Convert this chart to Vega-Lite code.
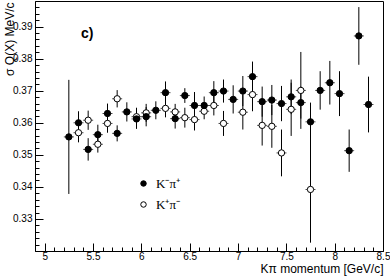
{
"$schema": "https://vega.github.io/schema/vega-lite/v6.json",
"width": 348, "height": 250,
"autosize": {"type": "none"},
"padding": {"left": 35, "top": 1, "right": 7, "bottom": 25},
"background": "white",
"config": {
  "font": "Liberation Sans",
  "view": {"stroke": "black", "strokeWidth": 1},
  "axis": {"domainColor": "black", "tickColor": "black", "labelColor": "black", "titleColor": "black", "grid": false, "labelFont": "Liberation Sans", "titleFont": "Liberation Sans", "labelFontSize": 10, "titleFontSize": 12, "titleFontWeight": "normal", "labelOverlap": false, "labelFlush": false}
},
"resolve": {"axis": {"x": "independent", "y": "independent"}},
"data": {"values": [
  {"s": "K⁺π⁻", "x": 5.35, "y": 0.3569, "lo": 0.3539, "hi": 0.3599},
  {"s": "K⁺π⁻", "x": 5.45, "y": 0.3608, "lo": 0.3578, "hi": 0.3638},
  {"s": "K⁺π⁻", "x": 5.55, "y": 0.3533, "lo": 0.3507, "hi": 0.3559},
  {"s": "K⁺π⁻", "x": 5.65, "y": 0.3598, "lo": 0.3569, "hi": 0.3627},
  {"s": "K⁺π⁻", "x": 5.75, "y": 0.3675, "lo": 0.3648, "hi": 0.3702},
  {"s": "K⁺π⁻", "x": 5.95, "y": 0.3619, "lo": 0.3591, "hi": 0.3647},
  {"s": "K⁺π⁻", "x": 6.05, "y": 0.3631, "lo": 0.3603, "hi": 0.3659},
  {"s": "K⁺π⁻", "x": 6.25, "y": 0.3645, "lo": 0.3617, "hi": 0.3673},
  {"s": "K⁺π⁻", "x": 6.35, "y": 0.3634, "lo": 0.3609, "hi": 0.3659},
  {"s": "K⁺π⁻", "x": 6.45, "y": 0.3616, "lo": 0.3585, "hi": 0.3647},
  {"s": "K⁺π⁻", "x": 6.55, "y": 0.3610, "lo": 0.3576, "hi": 0.3644},
  {"s": "K⁺π⁻", "x": 6.65, "y": 0.3636, "lo": 0.3611, "hi": 0.3661},
  {"s": "K⁺π⁻", "x": 6.75, "y": 0.3654, "lo": 0.3623, "hi": 0.3685},
  {"s": "K⁺π⁻", "x": 6.85, "y": 0.3598, "lo": 0.3559, "hi": 0.3637},
  {"s": "K⁺π⁻", "x": 7.05, "y": 0.3633, "lo": 0.3579, "hi": 0.3687},
  {"s": "K⁺π⁻", "x": 7.15, "y": 0.3688, "lo": 0.3636, "hi": 0.3740},
  {"s": "K⁺π⁻", "x": 7.25, "y": 0.3592, "lo": 0.3529, "hi": 0.3655},
  {"s": "K⁺π⁻", "x": 7.35, "y": 0.3589, "lo": 0.3522, "hi": 0.3656},
  {"s": "K⁺π⁻", "x": 7.45, "y": 0.3506, "lo": 0.3433, "hi": 0.3579},
  {"s": "K⁺π⁻", "x": 7.55, "y": 0.3642, "lo": 0.3559, "hi": 0.3725},
  {"s": "K⁺π⁻", "x": 7.65, "y": 0.3701, "lo": 0.3581, "hi": 0.3821},
  {"s": "K⁺π⁻", "x": 7.75, "y": 0.3392, "lo": 0.3226, "hi": 0.3558},
  {"s": "K⁻π⁺", "x": 5.25, "y": 0.3556, "lo": 0.3378, "hi": 0.3734},
  {"s": "K⁻π⁺", "x": 5.35, "y": 0.3600, "lo": 0.3564, "hi": 0.3636},
  {"s": "K⁻π⁺", "x": 5.45, "y": 0.3517, "lo": 0.3482, "hi": 0.3552},
  {"s": "K⁻π⁺", "x": 5.55, "y": 0.3563, "lo": 0.3532, "hi": 0.3594},
  {"s": "K⁻π⁺", "x": 5.65, "y": 0.3629, "lo": 0.3598, "hi": 0.3660},
  {"s": "K⁻π⁺", "x": 5.75, "y": 0.3567, "lo": 0.3542, "hi": 0.3592},
  {"s": "K⁻π⁺", "x": 5.85, "y": 0.3634, "lo": 0.3604, "hi": 0.3664},
  {"s": "K⁻π⁺", "x": 5.95, "y": 0.3612, "lo": 0.3581, "hi": 0.3643},
  {"s": "K⁻π⁺", "x": 6.05, "y": 0.3619, "lo": 0.3589, "hi": 0.3649},
  {"s": "K⁻π⁺", "x": 6.15, "y": 0.3639, "lo": 0.3611, "hi": 0.3667},
  {"s": "K⁻π⁺", "x": 6.25, "y": 0.3694, "lo": 0.3659, "hi": 0.3729},
  {"s": "K⁻π⁺", "x": 6.35, "y": 0.3613, "lo": 0.3582, "hi": 0.3644},
  {"s": "K⁻π⁺", "x": 6.45, "y": 0.3685, "lo": 0.3662, "hi": 0.3708},
  {"s": "K⁻π⁺", "x": 6.55, "y": 0.3654, "lo": 0.3612, "hi": 0.3696},
  {"s": "K⁻π⁺", "x": 6.65, "y": 0.3654, "lo": 0.3626, "hi": 0.3682},
  {"s": "K⁻π⁺", "x": 6.75, "y": 0.3694, "lo": 0.3658, "hi": 0.3730},
  {"s": "K⁻π⁺", "x": 6.85, "y": 0.3699, "lo": 0.3663, "hi": 0.3735},
  {"s": "K⁻π⁺", "x": 6.95, "y": 0.3673, "lo": 0.3629, "hi": 0.3717},
  {"s": "K⁻π⁺", "x": 7.05, "y": 0.3699, "lo": 0.3652, "hi": 0.3746},
  {"s": "K⁻π⁺", "x": 7.15, "y": 0.3744, "lo": 0.3697, "hi": 0.3791},
  {"s": "K⁻π⁺", "x": 7.25, "y": 0.3666, "lo": 0.3619, "hi": 0.3713},
  {"s": "K⁻π⁺", "x": 7.35, "y": 0.3671, "lo": 0.3624, "hi": 0.3718},
  {"s": "K⁻π⁺", "x": 7.45, "y": 0.3660, "lo": 0.3605, "hi": 0.3715},
  {"s": "K⁻π⁺", "x": 7.55, "y": 0.3681, "lo": 0.3627, "hi": 0.3735},
  {"s": "K⁻π⁺", "x": 7.65, "y": 0.3663, "lo": 0.3613, "hi": 0.3713},
  {"s": "K⁻π⁺", "x": 7.75, "y": 0.3603, "lo": 0.3543, "hi": 0.3663},
  {"s": "K⁻π⁺", "x": 7.85, "y": 0.3701, "lo": 0.3641, "hi": 0.3761},
  {"s": "K⁻π⁺", "x": 7.95, "y": 0.3725, "lo": 0.3657, "hi": 0.3793},
  {"s": "K⁻π⁺", "x": 8.05, "y": 0.3691, "lo": 0.3621, "hi": 0.3761},
  {"s": "K⁻π⁺", "x": 8.15, "y": 0.3513, "lo": 0.3447, "hi": 0.3579},
  {"s": "K⁻π⁺", "x": 8.25, "y": 0.3871, "lo": 0.3781, "hi": 0.3961},
  {"s": "K⁻π⁺", "x": 8.35, "y": 0.3657, "lo": 0.3570, "hi": 0.3744}
]},
"layer": [
  {
    "mark": {"type": "rule", "color": "black", "strokeWidth": 1},
    "encoding": {
      "x": {"field": "x", "type": "quantitative", "scale": {"domain": [4.9, 8.5], "nice": false, "zero": false},
        "axis": {"orient": "bottom", "title": "Kπ momentum [GeV/c]", "titleAnchor": "end", "titleAlign": "right", "titleX": 348, "titleY": 21, "titleBaseline": "alphabetic",
          "values": [5, 5.5, 6, 6.5, 7, 7.5, 8, 8.5], "format": "~g",
          "tickSize": -8, "labelPadding": 8}},
      "y": {"field": "lo", "type": "quantitative", "scale": {"domain": [0.32, 0.398], "nice": false, "zero": false},
        "axis": {"orient": "left", "title": "σ Q(X) MeV/c", "titleAngle": -90, "titleAlign": "right", "titleBaseline": "middle", "titleX": -26, "titleY": 1,
          "values": [0.33, 0.34, 0.35, 0.36, 0.37, 0.38, 0.39], "format": ".2f",
          "tickSize": -8, "labelPadding": 11}},
      "y2": {"field": "hi"}
    }
  },
  {
    "mark": {"type": "tick", "orient": "horizontal", "size": 10, "thickness": 1, "color": "black"},
    "encoding": {
      "x": {"field": "x", "type": "quantitative",
        "axis": {"orient": "bottom", "title": null, "labels": false, "domain": false, "tickSize": -4,
          "values": [5.1,5.2,5.3,5.4,5.6,5.7,5.8,5.9,6.1,6.2,6.3,6.4,6.6,6.7,6.8,6.9,7.1,7.2,7.3,7.4,7.6,7.7,7.8,7.9,8.1,8.2,8.3,8.4]}},
      "y": {"field": "y", "type": "quantitative",
        "axis": {"orient": "left", "title": null, "labels": false, "domain": false, "tickSize": -4,
          "values": [0.322,0.324,0.326,0.328,0.332,0.334,0.336,0.338,0.342,0.344,0.346,0.348,0.352,0.354,0.356,0.358,0.362,0.364,0.366,0.368,0.372,0.374,0.376,0.378,0.382,0.384,0.386,0.388,0.392,0.394,0.396]}}
    }
  },
  {
    "mark": {"type": "point", "shape": "circle", "filled": true, "size": 40, "stroke": "black", "strokeWidth": 1, "opacity": 1},
    "encoding": {
      "x": {"field": "x", "type": "quantitative", "axis": null},
      "y": {"field": "y", "type": "quantitative", "axis": null},
      "fill": {"field": "s", "type": "nominal", "scale": {"domain": ["K⁻π⁺", "K⁺π⁻"], "range": ["black", "white"]},
        "legend": {"title": null, "orient": "none", "legendX": 102, "legendY": 176, "labelFont": "Liberation Serif", "labelFontSize": 13, "labelColor": "black", "symbolSize": 30, "symbolStrokeColor": "black", "symbolStrokeWidth": 1, "symbolType": "circle", "rowPadding": 7, "labelOffset": 6, "padding": 0}}
    }
  },
  {
    "data": {"values": [{"x": 5.44, "y": 0.3876, "t": "c)"}]},
    "mark": {"type": "text", "fontSize": 14, "fontWeight": "bold", "font": "Liberation Sans", "color": "black", "align": "center", "baseline": "middle"},
    "encoding": {
      "x": {"field": "x", "type": "quantitative", "axis": null},
      "y": {"field": "y", "type": "quantitative", "axis": null},
      "text": {"field": "t"}
    }
  }
]
}
